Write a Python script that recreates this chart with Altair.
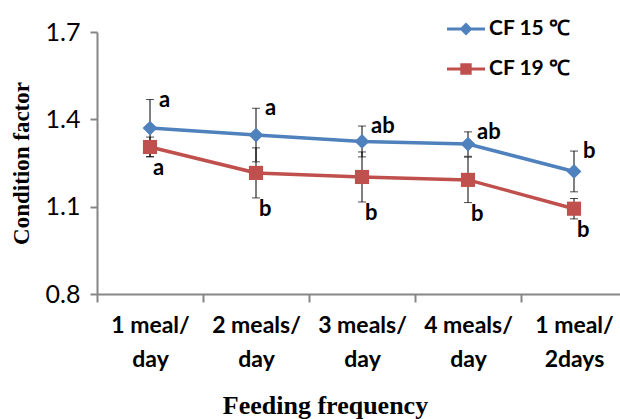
import altair as alt
import pandas as pd

categories = ["1 meal/ day", "2 meals/ day", "3 meals/ day", "4 meals/ day", "1 meal/ 2days"]
series = ["CF 15 ℃", "CF 19 ℃"]
cf15 = [1.37, 1.346, 1.324, 1.315, 1.221]
cf15_err = [0.098, 0.092, 0.053, 0.042, 0.07]
cf19 = [1.305, 1.216, 1.202, 1.192, 1.093]
cf19_err = [0.034, 0.086, 0.086, 0.078, 0.035]
letters15 = ["a", "a", "ab", "ab", "b"]
letters19 = ["a", "b", "b", "b", "b"]
y_ticks = [0.8, 1.1, 1.4, 1.7]
colors = ["#4F81BD", "#C0504D"]

rows = []
for s, means, errs, lets in [(series[0], cf15, cf15_err, letters15),
                             (series[1], cf19, cf19_err, letters19)]:
    for c, m, e, l in zip(categories, means, errs, lets):
        rows.append({"cat": c, "series": s, "mean": m, "lo": m - e, "hi": m + e, "letter": l})
df = pd.DataFrame(rows)

FONT = "Lato"
SERIF = "Liberation Serif"

xscale = alt.Scale(type="band", domain=categories, range=[0, 530], paddingInner=0, paddingOuter=0)
x = alt.X("cat:N", sort=categories, scale=xscale,
          axis=alt.Axis(title="Feeding frequency", tickBand="extent", tickSize=8,
                        labelExpr="datum.label ? [split(datum.label, '/ ')[0] + '/', split(datum.label, '/ ')[1]] : ''",
                        labelAngle=0, labelFont=FONT, labelFontSize=23, labelFontWeight="bold",
                        labelLineHeight=34, labelPadding=12, labelColor="#000000",
                        titleFont=SERIF, titleFontSize=26, titleFontWeight="bold",
                        titleColor="#000000", titleX=228, titleY=119, titleBaseline="alphabetic"))
yscale = alt.Scale(domain=[0.8, 1.7], nice=False, zero=False)
y = alt.Y("mean:Q", scale=yscale,
          axis=alt.Axis(title="Condition factor", values=y_ticks, format=".1f", grid=False,
                        tickSize=7, labelFont=FONT, labelFontSize=25, labelColor="#000000",
                        labelPadding=10, titleFont=SERIF, titleFontSize=23, titleFontWeight="bold",
                        titleColor="#000000", titleX=-76, titleY=131, titleAngle=-90,
                        titleBaseline="middle", titleAlign="center"))
color = alt.Color("series:N", scale=alt.Scale(domain=series, range=colors), legend=None)

base = alt.Chart(df)

legend_paths = [
    "M-1,-0.08L1,-0.08L1,0.08L-1,0.08ZM0,-0.34L0.34,0L0,0.34L-0.34,0Z",
    "M-1,-0.08L1,-0.08L1,0.08L-1,0.08ZM-0.3,-0.3L0.3,-0.3L0.3,0.3L-0.3,0.3Z",
]
# tiny points hidden under the real markers; they only feed the legend
legend_layer = base.mark_point(filled=True, size=1, opacity=1).encode(
    x=x, y=y,
    color=alt.Color("series:N", scale=alt.Scale(domain=series, range=colors),
                    legend=alt.Legend(title=None, orient="none", legendX=350, legendY=-22,
                                      symbolSize=1444, symbolStrokeWidth=0,
                                      labelFont=FONT, labelFontSize=21, labelFontWeight="bold",
                                      labelColor="#000000", labelOffset=4, rowPadding=11,
                                      padding=0)),
    shape=alt.Shape("series:N", scale=alt.Scale(domain=series, range=legend_paths)),
)

lines = base.mark_line(strokeWidth=3.5).encode(x=x, y=y, color=color, detail="series:N")
rules = base.mark_rule(color="black", strokeWidth=1).encode(x=x, y="lo:Q", y2="hi:Q")
caps_hi = base.mark_tick(color="black", orient="horizontal", size=8, thickness=1).encode(x=x, y=alt.Y("hi:Q"))
caps_lo = base.mark_tick(color="black", orient="horizontal", size=8, thickness=1).encode(x=x, y=alt.Y("lo:Q"))
pts15 = base.transform_filter(alt.datum.series == series[0]).mark_point(
    filled=True, shape="diamond", size=220, opacity=1, color=colors[0]).encode(x=x, y=y)
pts19 = base.transform_filter(alt.datum.series == series[1]).mark_point(
    filled=True, shape="square", size=200, opacity=1, color=colors[1]).encode(x=x, y=y)

txt15 = base.transform_filter(alt.datum.series == series[0]).mark_text(
    align="left", baseline="middle", dx=9, dy=0, font=FONT, fontSize=22, fontWeight="bold",
    color="black").encode(x=x, y=alt.Y("hi:Q"), text="letter:N")
txt19 = base.transform_filter(alt.datum.series == series[1]).mark_text(
    align="left", baseline="middle", dx=3, dy=11, font=FONT, fontSize=22, fontWeight="bold",
    color="black").encode(x=x, y=alt.Y("lo:Q"), text="letter:N")

chart = alt.layer(legend_layer, lines, rules, caps_hi, caps_lo, pts15, pts19, txt15, txt19).properties(
    width=523, height=262,
    autosize=alt.AutoSizeParams(type="none"),
    padding={"left": 97, "top": 32, "right": 0, "bottom": 125},
    background="white",
).configure_view(stroke=None).configure_axis(
    domainColor="#868686", tickColor="#868686", domainWidth=2, tickWidth=2,
)

chart.save("out.html", embed_options={"renderer": "svg", "actions": False})
